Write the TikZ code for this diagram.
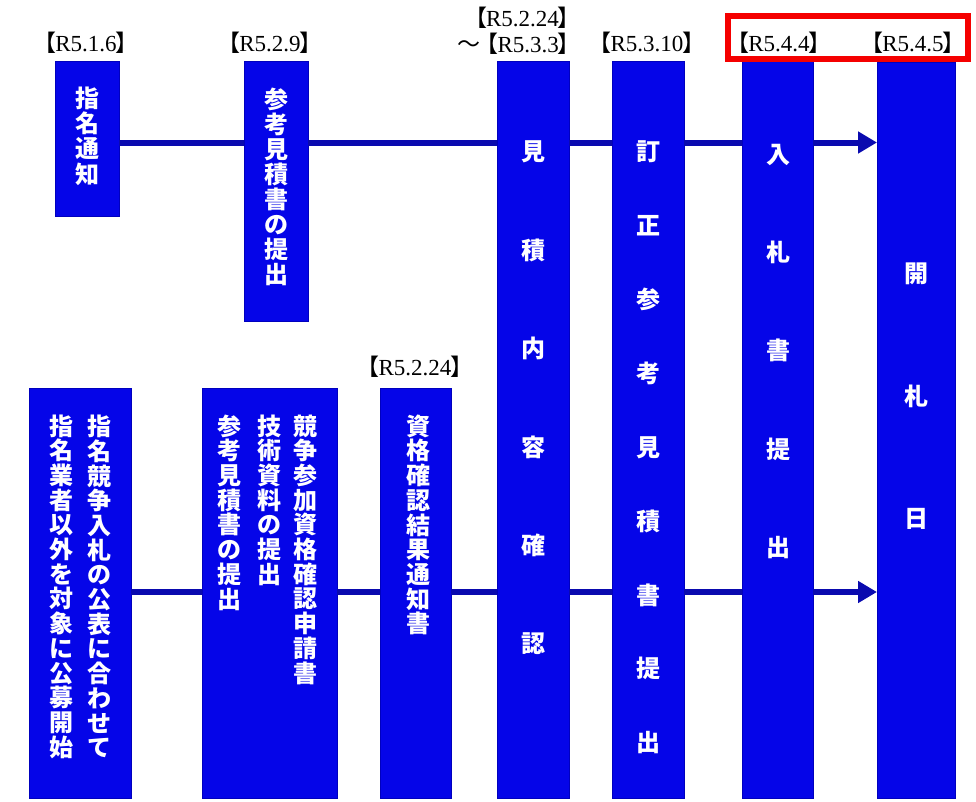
\documentclass[tikz,border=0pt]{standalone}
\usepackage{fontspec}
\setmainfont{Liberation Serif}
\newfontfamily\cjk{Noto Sans CJK JP}
\usetikzlibrary{arrows.meta}
\definecolor{boxblue}{RGB}{5,5,232}
\definecolor{edgeblue}{RGB}{0,0,190}
\definecolor{lineblue}{RGB}{10,10,175}
\definecolor{hlred}{RGB}{245,0,0}
\newcommand{\lb}{{\cjk 【}\kern-0.05em}
\newcommand{\rb}{\kern-0.05em{\cjk 】}}
\begin{document}
\begin{tikzpicture}[x=1pt,y=-1pt,
  box/.style={draw=edgeblue, fill=boxblue, line width=0.8pt, inner sep=0pt, outer sep=0pt},
  vt/.style={text=white, align=center, inner sep=0pt},
  datelbl/.style={inner sep=0pt, anchor=base, font=\fontsize{23}{26}\selectfont},
  conn/.style={draw=lineblue, line width=6pt},
  arr/.style={conn, -{Triangle[length=19pt,width=21pt]}}
]
\useasboundingbox (0,0) rectangle (976,801);

% boxes
\node[box, minimum width=64pt, minimum height=155pt] (b1) at (87,138.5) {};
\node[box, minimum width=64pt, minimum height=260pt] (b2) at (276,191) {};
\node[box, minimum width=72pt, minimum height=737pt] (b3) at (533,429.5) {};
\node[box, minimum width=72pt, minimum height=737pt] (b4) at (648,429.5) {};
\node[box, minimum width=71pt, minimum height=737pt] (b5) at (777.5,430) {};
\node[box, minimum width=78pt, minimum height=736pt] (b6) at (916,430) {};
\node[box, minimum width=102pt, minimum height=410pt] (b7) at (80,593) {};
\node[box, minimum width=135pt, minimum height=410pt] (b8) at (269.5,593) {};
\node[box, minimum width=71pt, minimum height=410pt] (b9) at (415.5,593) {};

% texts
\node[vt, font={\cjk\bfseries\fontsize{24}{25.3}\selectfont}] (t1) at (87,136) {指\\名\\通\\知};
\node[vt, font={\cjk\bfseries\fontsize{24}{25}\selectfont}] (t2) at (276,186.5) {参\\考\\見\\積\\書\\の\\提\\出};
\node[vt, font={\cjk\bfseries\fontsize{24}{98.4}\selectfont}] (t3) at (533,398) {見\\積\\内\\容\\確\\認};
\node[vt, font={\cjk\bfseries\fontsize{24}{73.9}\selectfont}] (t4) at (648,447.5) {訂\\正\\参\\考\\見\\積\\書\\提\\出};
\node[vt, font={\cjk\bfseries\fontsize{24}{98.25}\selectfont}] (t5) at (778,351.5) {入\\札\\書\\提\\出};
\node[vt, font={\cjk\bfseries\fontsize{24}{122.5}\selectfont}] (t6) at (916,396.5) {開\\札\\日};
\node[vt, font={\cjk\bfseries\fontsize{24}{24.7}\selectfont}] (t7a) at (99,586.5) {指\\名\\競\\争\\入\\札\\の\\公\\表\\に\\合\\わ\\せ\\て};
\node[vt, font={\cjk\bfseries\fontsize{24}{24.7}\selectfont}] (t7b) at (61,586.5) {指\\名\\業\\者\\以\\外\\を\\対\\象\\に\\公\\募\\開\\始};
\node[vt, font={\cjk\bfseries\fontsize{24}{24.7}\selectfont}] (t8a) at (305,549.5) {競\\争\\参\\加\\資\\格\\確\\認\\申\\請\\書};
\node[vt, font={\cjk\bfseries\fontsize{24}{24.7}\selectfont}] (t8b) at (269,500) {技\\術\\資\\料\\の\\提\\出};
\node[vt, font={\cjk\bfseries\fontsize{24}{24.7}\selectfont}] (t8c) at (229,512.5) {参\\考\\見\\積\\書\\の\\提\\出};
\node[vt, font={\cjk\bfseries\fontsize{24}{24.7}\selectfont}] (t9) at (418,525) {資\\格\\確\\認\\結\\果\\通\\知\\書};

% date labels
\node[datelbl] (l1) at (86,51) {\lb R5.1.6\rb};
\node[datelbl] (l2) at (270,51) {\lb R5.2.9\rb};
\node[datelbl, anchor=base east] (l3a) at (581,26) {\lb R5.2.24\rb};
\node[datelbl, anchor=base east] (l3b) at (581,52) {{\cjk ～}\kern-0.2em\lb R5.3.3\rb};
\node[datelbl] (l4) at (647,51) {\lb R5.3.10\rb};
\node[datelbl] (l5) at (779,51) {\lb R5.4.4\rb};
\node[datelbl] (l6) at (913,51) {\lb R5.4.5\rb};
\node[datelbl] (l7) at (415,375) {\lb R5.2.24\rb};

% highlight
\node[draw=hlred, line width=6pt, minimum width=240pt, minimum height=43pt, inner sep=0pt] (hl) at (848,37.5) {};

% connectors
\coordinate (ty) at (0,142.5);
\coordinate (by) at (0,592);
\draw[conn] (b1.east |- ty) -- (b2.west |- ty);
\draw[conn] (b2.east |- ty) -- (b3.west |- ty);
\draw[conn] (b3.east |- ty) -- (b4.west |- ty);
\draw[conn] (b4.east |- ty) -- (b5.west |- ty);
\draw[arr] (b5.east |- ty) -- (b6.west |- ty);
\draw[conn] (b7.east |- by) -- (b8.west |- by);
\draw[conn] (b8.east |- by) -- (b9.west |- by);
\draw[conn] (b9.east |- by) -- (b3.west |- by);
\draw[conn] (b3.east |- by) -- (b4.west |- by);
\draw[conn] (b4.east |- by) -- (b5.west |- by);
\draw[arr] (b5.east |- by) -- (b6.west |- by);
\end{tikzpicture}
\end{document}
